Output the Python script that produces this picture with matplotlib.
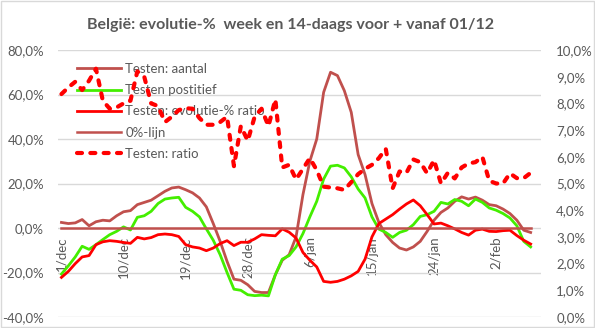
import matplotlib.pyplot as plt
from matplotlib.ticker import FuncFormatter, MultipleLocator
from matplotlib.patches import Rectangle
import numpy as np

plt.rcParams['font.family'] = ['Lato', 'DejaVu Sans']

# dagen vanaf 1/dec (69 dagen, t.e.m. 7/feb)
days = np.arange(69)
tick_days = [0, 9, 18, 27, 36, 45, 54, 63]
tick_labels = ['1/dec', '10/dec', '19/dec', '28/dec', '6/jan', '15/jan', '24/jan', '2/feb']

# Testen: aantal (% evolutie)
aantal = [2.5, 2.0, 2.3, 3.8, 1.0, 2.8, 3.5, 3.2, 5.5, 7.3,
          7.8, 10.5, 11.5, 12.5, 14.5, 16.5, 18.0, 18.4, 17.2, 15.8,
          13.5, 9.5, 2.0, -6.0, -15.0, -23.0, -23.5, -25.5, -28.5, -29.0,
          -29.0, -21.0, -14.5, -12.0, -4.0, 15.0, 30.0, 40.0, 61.0, 70.0,
          68.5, 61.7, 52.0, 33.0, 24.0, 11.0, 2.5, -3.0, -6.5, -9.0,
          -9.9, -8.5, -6.0, -1.5, 3.5, 7.0, 9.0, 12.0, 14.0, 13.0,
          13.9, 12.5, 10.5, 10.0, 8.5, 6.5, 3.5, -1.0, -2.0]

# Testen positief
positief = [-20.7, -17.0, -13.0, -8.2, -9.6, -7.5, -5.2, -3.0, -1.5, 0.5,
            -0.9, 4.8, 5.5, 7.5, 11.0, 13.0, 13.5, 13.8, 9.3, 7.5,
            5.0, -0.4, -5.5, -12.0, -20.0, -27.5, -28.0, -30.0, -30.4, -30.2,
            -30.5, -21.0, -14.0, -12.4, -8.5, -2.5, 5.0, 12.0, 22.0, 27.8,
            28.2, 27.0, 23.0, 17.5, 13.5, 5.0, -0.5, -2.0, -4.2, -2.0,
            -1.0, 1.5, 5.2, 6.0, 7.5, 11.5, 10.8, 12.8, 12.0, 10.0,
            13.0, 11.5, 9.0, 8.0, 6.5, 4.5, 1.0, -6.0, -8.5]

# Testen: evolutie-% ratio
evol_ratio = [-22.2, -19.5, -16.0, -13.0, -12.4, -7.5, -6.2, -5.7, -6.0, -6.5,
              -6.9, -4.2, -4.9, -4.3, -3.0, -2.7, -3.0, -3.8, -7.5, -8.5,
              -9.0, -10.2, -9.0, -7.0, -5.7, -7.9, -6.4, -6.4, -4.9, -3.0,
              -3.3, -3.5, -0.4, -1.9, -4.5, -11.0, -14.5, -17.5, -24.0, -24.4,
              -24.0, -23.0, -21.5, -19.5, -14.0, -4.0, 2.0, 4.0, 6.0, 8.5,
              10.8, 12.6, 10.0, 6.0, 1.8, 2.2, 1.0, -0.4, -2.0, -3.2,
              -1.0, -0.5, -1.5, -1.6, -1.2, -1.0, -3.4, -5.5, -7.2]

# Testen: ratio (rechter as, %)
ratio = [8.35, 8.6, 8.81, 8.5, 8.85, 9.3, 8.1, 7.8, 7.85, 8.0,
         8.1, 9.2, 9.0, 8.0, 7.9, 7.3, 7.5, 7.75, 7.82, 7.8,
         7.45, 7.2, 7.2, 7.3, 7.5, 5.65, 7.15, 6.6, 7.5, 7.8,
         7.15, 8.15, 5.6, 5.7, 5.15, 5.55, 5.95, 5.5, 4.88, 4.85,
         4.82, 4.76, 5.05, 5.35, 5.55, 5.7, 5.95, 6.3, 4.82, 5.45,
         5.4, 5.9, 5.8, 5.38, 5.88, 5.0, 5.4, 5.19, 5.6, 5.75,
         5.8, 6.0, 5.1, 5.0, 5.0, 5.38, 5.2, 5.2, 5.4]

zero_line = [0.0] * len(days)

brown = '#C0504D'
green = '#44EE00'
red = '#FF0000'
grey_txt = '#595959'

fig = plt.figure(figsize=(5.95, 3.28), dpi=100)
ax = fig.add_axes([58/595, 1 - 317/328, (541-58)/595, (317-50)/328])
ax2 = ax.twinx()

ax.plot(days, aantal, color=brown, lw=2.0, label='Testen: aantal')
ax.plot(days, positief, color=green, lw=2.0, label='Testen postitief')
ax.plot(days, evol_ratio, color=red, lw=2.0, label='Testen: evolutie-% ratio')
ax.plot(days, zero_line, color=brown, lw=1.8, label='0%-lijn')
ax.set_xlim(-0.5, 69.5)
ax.set_ylim(-40, 80)

l5, = ax2.plot(days, ratio, color=red, lw=3.0, linestyle=(0, (1.2, 2.0)),
               dash_capstyle='round', label='Testen: ratio')
ax2.set_ylim(0, 10)

ax.yaxis.set_major_locator(MultipleLocator(20))
ax.yaxis.set_major_formatter(FuncFormatter(lambda v, p: f'{v:.1f}%'.replace('.', ',')))
ax2.yaxis.set_major_locator(MultipleLocator(1))
ax2.yaxis.set_major_formatter(FuncFormatter(lambda v, p: f'{v:.1f}%'.replace('.', ',')))
ax.grid(axis='y', color='#D9D9D9', lw=1.0)
ax.set_axisbelow(True)

for a in (ax, ax2):
    for s in a.spines.values():
        s.set_visible(False)
    a.tick_params(length=0, labelsize=9.5, labelcolor=grey_txt)
ax.tick_params(axis='y', pad=10)
ax2.tick_params(axis='y', pad=11)

# categorie-as snijdt bij 0%
ax.spines['bottom'].set_position(('data', 0))
ax.set_xticks(tick_days)
ax.set_xticklabels(tick_labels, rotation=90)
ax.tick_params(axis='x', pad=6)

h, l = ax.get_legend_handles_labels()
leg = ax.legend(h + [l5], l + [l5.get_label()], loc='upper left',
                bbox_to_anchor=(77/595, 1 - 63/328), bbox_transform=fig.transFigure,
                frameon=False, fontsize=9.5, handlelength=3.3, handletextpad=0.35,
                labelspacing=0.7, borderaxespad=0, borderpad=0)
for t in leg.get_texts():
    t.set_color(grey_txt)

fig.text(291/595, 1 - 25/328, 'België: evolutie-%  week en 14-daags voor + vanaf 01/12',
         ha='center', va='center', fontsize=11.5, fontweight='bold', color=grey_txt)

fig.patches.append(Rectangle((0.001, 0.002), 0.997, 0.995, transform=fig.transFigure,
                             fill=False, edgecolor='#D9D9D9', lw=1.0))

fig.savefig('out.png', dpi=100)
